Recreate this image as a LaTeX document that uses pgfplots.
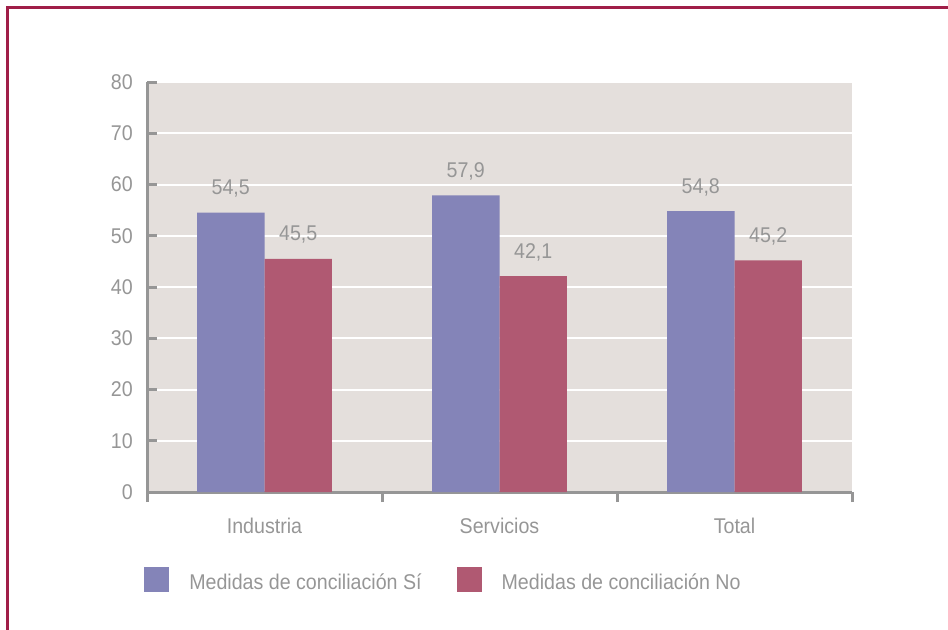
\documentclass[border=0pt]{standalone}
\usepackage{pgfplots}
\pgfplotsset{compat=1.18}
\usepackage{fontspec}
\setmainfont[FakeStretch=0.92]{Liberation Sans}
\definecolor{si}{RGB}{132,132,184}
\definecolor{no}{RGB}{176,89,114}
\definecolor{bg}{RGB}{228,223,220}
\definecolor{txt}{RGB}{150,150,150}
\definecolor{axl}{RGB}{150,150,150}
\definecolor{framec}{RGB}{160,30,72}
\begin{document}
\fontsize{16pt}{19pt}\selectfont
\begin{tikzpicture}
\path[use as bounding box] (0,0) rectangle (711pt,471.75pt);
\draw[framec, line width=2.25pt] (5.25pt,-2pt) -- (5.25pt,465.75pt) -- (715pt,465.75pt);
\begin{axis}[
  at={(110.25pt,102.75pt)}, anchor=south west,
  scale only axis, width=528.75pt, height=307.5pt,
  xmin=-0.5, xmax=2.5, ymin=0, ymax=80,
  ytick={0,10,...,80},
  xtick={-0.5,0.5,1.5,2.5},
  xticklabels={Industria,Servicios,Total},
  x tick label as interval,
  axis lines=left,
  axis line style={-, axl, line width=2.25pt},
  tick style={axl, line width=2.25pt},
  major tick length=7.5pt,
  tick align=inside,
  xtick align=inside, ytick align=inside,
  ymajorgrids,
  grid style={white, line width=1.5pt},
  axis background/.style={fill=bg},
  ticklabel style={text=txt},
  /pgf/number format/assume math mode=true,
  yticklabel style={inner sep=0pt, xshift=-10.5pt},
  xticklabel style={inner sep=0pt, yshift=-12pt},
  ybar=0pt, bar width=50.6pt,
  nodes near coords={\pgfmathprintnumber[fixed,fixed zerofill,precision=1,use comma]{\pgfplotspointmeta}},
  every node near coord/.append style={text=txt, anchor=base, inner sep=0pt, yshift=13.5pt},
  legend columns=2,
  legend style={at={(-0.00426,-0.2463)}, anchor=south west, draw=none, fill=none, inner sep=0pt, text=txt,
    nodes={inner sep=0pt},
    /tikz/every even column/.append style={column sep=26.25pt},
    /tikz/every odd column/.append style={column sep=15pt}},
  legend image code/.code={\fill[#1] (0pt,-6.75pt) rectangle (18.75pt,12pt);},
]
\addplot[fill=si, draw=none] coordinates {(0,54.5) (1,57.9) (2,54.8)};
\addplot[fill=no, draw=none] coordinates {(0,45.5) (1,42.1) (2,45.2)};
\legend{Medidas de conciliación Sí, Medidas de conciliación No}
\end{axis}
\end{tikzpicture}
\end{document}
